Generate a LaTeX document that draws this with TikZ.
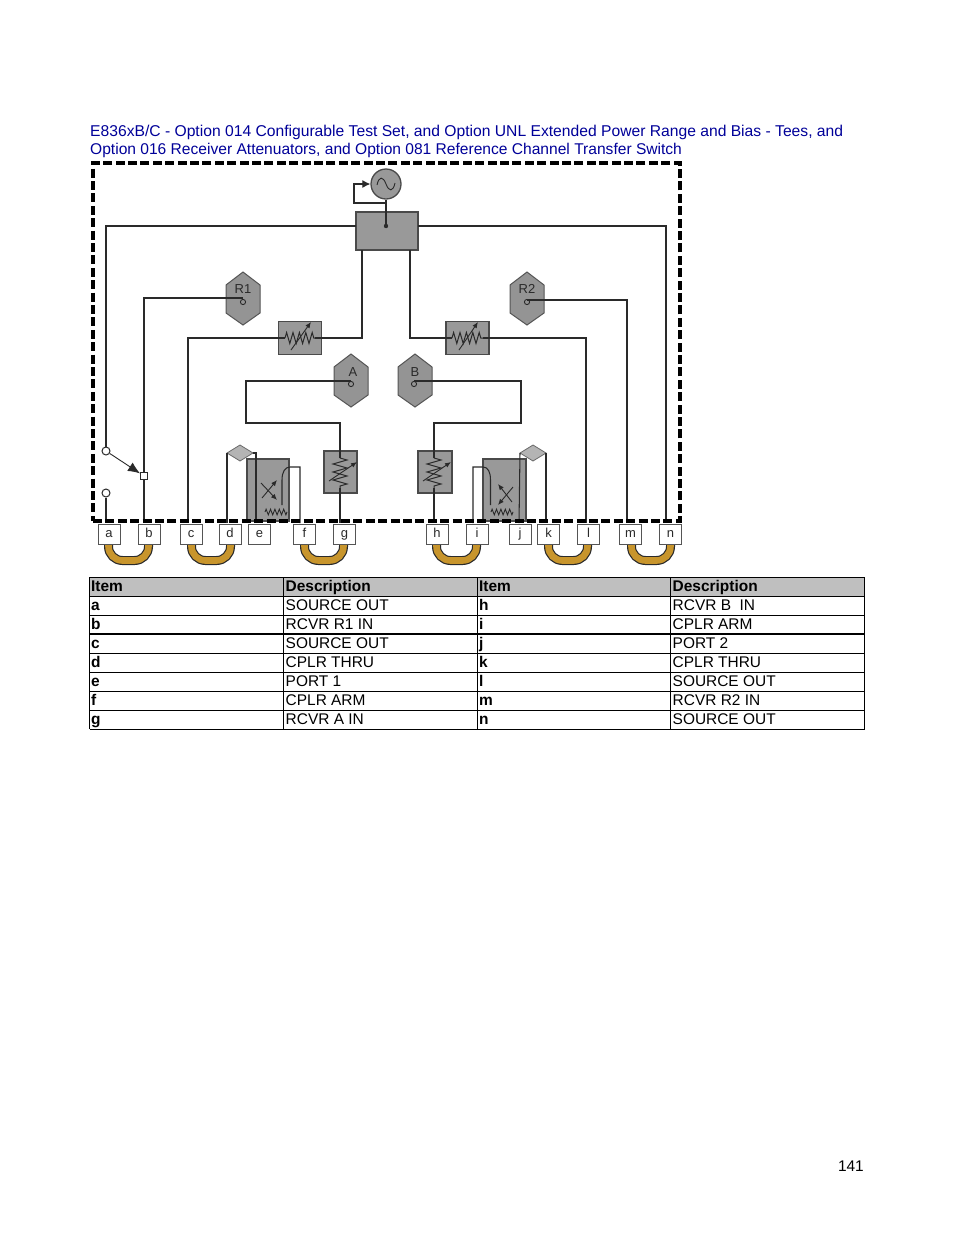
\documentclass[tikz,border=0pt]{standalone}
\usepackage{fontspec}
\setmainfont{Liberation Sans}
\usetikzlibrary{arrows.meta,decorations.pathmorphing,calc}
\definecolor{bluetitle}{HTML}{000099}
\definecolor{blockgray}{HTML}{999999}
\definecolor{lightgray}{HTML}{B4B4B4}
\definecolor{headgray}{HTML}{BFBFBF}
\definecolor{gold}{HTML}{C8952C}
\definecolor{ink}{HTML}{2A2A2A}
\tikzset{
  wire/.style={draw=ink,line width=1.05pt},
  thinwire/.style={draw=ink,line width=0.9pt},
  block/.style={draw=ink!85,fill=blockgray,line width=1.3pt,inner sep=0pt},
  frameline/.style={draw=black,line width=3.6pt,dash pattern=on 9pt off 3.4pt},
  portbox/.style={draw=ink!80,fill=white,line width=1pt,minimum width=22pt,minimum height=20pt,inner sep=0pt,text height=9pt,text depth=2.5pt,font=\fontsize{13}{13}\selectfont,text=ink},
  hexfill/.style={draw=ink!80,fill=blockgray!105,line width=1pt},
  hexlabel/.style={inner sep=0pt,font=\fontsize{13}{13}\selectfont,text=ink},
  tinycirc/.style={circle,draw=ink,fill=white,line width=1pt,minimum size=8pt,inner sep=0pt},
  tinysq/.style={draw=ink,fill=white,line width=1pt,minimum size=7pt,inner sep=0pt},
  probe/.style={draw=ink,line width=0.9pt},
  zigA/.style={draw=ink,line width=1pt,decorate,decoration={zigzag,segment length=6.4pt,amplitude=5.5pt}},
  zigV/.style={draw=ink,line width=1pt,decorate,decoration={zigzag,segment length=8pt,amplitude=7pt}},
  zigB/.style={draw=ink,line width=0.9pt,decorate,decoration={zigzag,segment length=4.4pt,amplitude=2.8pt}},
  tune/.style={draw=ink,line width=0.9pt,-{Latex[length=6pt,width=5pt]}},
  diam/.style={draw=ink!70,fill=lightgray,line width=0.8pt},
  jumpo/.style={draw=ink,line width=9pt,rounded corners=14pt},
  jumpi/.style={draw=gold,line width=6.6pt,rounded corners=14pt},
  titletxt/.style={anchor=base west,inner sep=0pt,text=bluetitle,font=\fontsize{15.66}{15.66}\selectfont},
  titletxtb/.style={anchor=base west,inner sep=0pt,text=bluetitle,font=\fontsize{15.58}{15.58}\selectfont},
  celltxt/.style={anchor=base west,inner sep=0pt,font=\fontsize{15.45}{15.45}\selectfont},
  cellbold/.style={celltxt,font=\fontsize{15.45}{15.45}\selectfont\bfseries},
  tableline/.style={draw=black,line width=0.9pt}
}
\newcommand{\hexshape}[3]{% name, x, ymid
  \draw[hexfill] (#2,#3-26.5) -- (#2+17,#3-13.5) -- (#2+17,#3+14.5) -- (#2,#3+26.5)
     -- (#2-17,#3+14.5) -- (#2-17,#3-13.5) -- cycle;
  \coordinate (#1) at (#2,#3);}
\begin{document}
\begin{tikzpicture}[x=1pt,y=-1pt]
\useasboundingbox (0,0) rectangle (954,1235);
\fill[white] (0,0) rectangle (954,1235);
% title
\node[titletxt] (title1) at (90,136) {E836xB/C - Option 014 Configurable Test Set, and Option UNL Extended Power Range and Bias - Tees, and};
\node[titletxtb] (title2) at (90,154.5) {Option 016 Receiver Attenuators, and Option 081 Reference Channel Transfer Switch};

% coupler blocks (behind wires)
\node[block,minimum width=42pt,minimum height=62pt] (cplL) at (268,490) {};
\node[block,minimum width=43pt,minimum height=62pt] (cplR) at (504.5,490) {};

% source and splitter
\node[block,minimum width=62pt,minimum height=38pt] (split) at (387,231) {};
\node[block,circle,minimum size=30pt] (osc) at (386,184) {};
\draw[thinwire] (377,185) .. controls (379,176) and (383,176) .. (386,184) .. controls (389,192) and (393,192) .. (395,183);
\coordinate (splitC) at (386,226);
\fill[ink] (splitC) circle (2.2);
\coordinate (fbA) at (386,203);
\coordinate (fbB) at (354,203);
\coordinate (fbC) at (354,184);
\draw[wire] (splitC) -- (osc.south);
\draw[wire,-{Latex[length=8pt,width=8pt]}] (fbA) -- (fbB) -- (fbC) -- (osc.west);

% ports
\foreach \n/\x in {a/109,b/149,c/191,d/230,e/259.5,f/304.5,g/344.5,h/437,i/477,j/520,k/548.5,l/588.5,m/630.5,n/670.5}{
  \coordinate (pos\n) at (\x,534);
}
% jumpers
\foreach \a/\b/\xa/\xb in {a/b/108.5/148.5,c/d/191.5/230.5,f/g/304.5/343.5,h/i/436.5/476.5,k/l/548.5/587.5,m/n/631.5/670.5}{
  \coordinate (j\a) at (\xa,540);
  \coordinate (j\b) at (\xb,540);
  \draw[jumpo] (j\a) -- (\xa,560.5) -- (\xb,560.5) -- (j\b);
  \draw[jumpi] (j\a) -- (\xa,560.5) -- (\xb,560.5) -- (j\b);
}

% attenuators
\node[block,minimum width=43pt,minimum height=33pt] (attL) at (300,338) {};
\node[block,minimum width=43pt,minimum height=33pt] (attR) at (467.5,338) {};
\node[block,minimum width=33pt,minimum height=42pt] (attA) at (340.5,472) {};
\node[block,minimum width=34pt,minimum height=42pt] (attB) at (435,472) {};

% hexagon receivers
\hexshape{hexRa}{243}{298.5}
\hexshape{hexRb}{527}{298.5}
\hexshape{hexA}{351}{380.5}
\hexshape{hexB}{415}{380.5}
\node[hexlabel] (lblRa) at (243,289) {R1};
\node[hexlabel] (lblRb) at (527,289) {R2};
\node[hexlabel] (lblA) at (353,372) {A};
\node[hexlabel] (lblB) at (415,372) {B};
\coordinate (tapRa) at (243,298);
\coordinate (tapRb) at (527,300);
\coordinate (tapA) at (351,381);
\coordinate (tapB) at (414,381);

% named wire points
\coordinate (wa) at (106,523); \coordinate (wb) at (144,523); \coordinate (wc) at (188,523);
\coordinate (wd) at (227,523); \coordinate (wdd) at (256,523); \coordinate (wf) at (300,523);
\coordinate (wg) at (340,523); \coordinate (wh) at (434,523); \coordinate (wi) at (473,523);
\coordinate (wj) at (519,523); \coordinate (wk) at (546,523); \coordinate (wl) at (586,523);
\coordinate (wm) at (627,523); \coordinate (wn) at (666,523);

% switch
\node[tinycirc] (swA) at (106,451) {};
\node[tinycirc] (swB) at (106,493) {};
\node[tinysq] (swC) at (144,476) {};

% diamonds
\draw[diam] (227,453) -- (240,445) -- (253,453) -- (240,461) -- cycle;
\coordinate (diaLw) at (227,453); \coordinate (diaLe) at (253,453);
\draw[diam] (520,453) -- (533,445) -- (546,453) -- (533,461) -- cycle;
\coordinate (diaRw) at (520,453); \coordinate (diaRe) at (546,453);

% long wires
\draw[wire] (356,226) -- (106,226) -- (swA.north);
\draw[wire] (418,226) -- (666,226) -- (wn);
\draw[wire] (362,250) -- (362,338) -- (315,338);
\draw[wire] (285,338) -- (188,338) -- (wc);
\draw[wire] (410,250) -- (410,338) -- (452,338);
\draw[wire] (483,338) -- (586,338) -- (wl);
\draw[wire] (tapRa) -- (144,298) -- (swC.north);
\draw[wire] (swC.south) -- (wb);
\draw[wire] (tapRb) -- (627,300) -- (wm);
\draw[wire] (tapA) -- (246,381) -- (246,423) -- (340,423) -- (340,458);
\draw[wire] (340,488) -- (wg);
\draw[wire] (tapB) -- (521,381) -- (521,423) -- (434,423) -- (434,458);
\draw[wire] (434,488) -- (wh);
\draw[wire] (swB.south) -- (wa);
\draw[thinwire,-{Latex[length=12pt,width=10pt]}] (swA) -- (swC);

% coupler wiring
\draw[wire] (wd) -- (diaLw);
\draw[wire] (diaLe) -- (256,453) -- (wdd);
\draw[wire] (wj) -- (diaRw);
\draw[wire] (diaRe) -- (wk);
\draw[wire] (wf) -- (300,467) -- (290,467) .. controls (285,467) and (282,472) .. (282,480) -- (282,505);
\draw[wire] (wi) -- (473,467) -- (483,467) .. controls (488,467) and (490.5,472) .. (490.5,480) -- (490.5,505);
\draw[tune] (262,498) -- (277,480);
\draw[tune] (261,483) -- (277,500);
\draw[tune] (512,502) -- (498,484);
\draw[tune] (513,487) -- (498,505);
\draw[zigB] (265,512) -- (287,512);
\draw[zigB] (491,512) -- (513,512);

% attenuator symbols
\draw[zigA] (285,338) -- (315,338);
\draw[tune] (291,350) -- (311,322);
\draw[zigA] (452,338) -- (483,338);
\draw[tune] (459,350) -- (478,322);
\draw[zigV] (340,458) -- (340,488);
\draw[tune] (329,481) -- (357,462);
\draw[zigV] (434,458) -- (434,488);
\draw[tune] (423,481) -- (451,462);

% hexagon probes
\draw[probe,fill=none] (243,302) circle (2.6);
\draw[probe,fill=none] (527,302) circle (2.6);
\draw[probe,fill=none] (351,384) circle (2.6);
\draw[probe,fill=none] (414,384) circle (2.6);

% frame
\node[inner sep=0pt,minimum width=587pt,minimum height=358pt,frameline] (frame) at (386.5,342) {};

% port boxes
\foreach \n in {a,b,c,d,e,f,g,h,i,j,k,l,m,n}{
  \node[portbox] (p\n) at (pos\n) {\n};
}

% table
\fill[headgray] (89.5,577) rectangle (864.5,596);
\foreach \y in {577,596,615,653,672,691,710,729}{
  \draw[tableline] (89.5,\y) -- (864.5,\y);
}
\draw[draw=black,line width=1.6pt] (89.5,634) -- (864.5,634);
\foreach \x in {89.5,283.5,477,670.5,864.5}{
  \draw[tableline] (\x,577) -- (\x,729);
}
\foreach \x/\t in {91/Item,285.5/Description,479/Item,672.5/Description}{
  \node[cellbold] (head\x) at (\x,591) {\t};
}
\foreach \y/\i/\d/\ii/\dd in {
  610/a/SOURCE OUT/h/RCVR B\ \ IN,
  629/b/RCVR R1 IN/i/CPLR ARM,
  648/c/SOURCE OUT/j/PORT 2,
  667/d/CPLR THRU/k/CPLR THRU,
  686/e/PORT 1/l/SOURCE OUT,
  705/f/CPLR ARM/m/RCVR R2 IN,
  724/g/RCVR A IN/n/SOURCE OUT}{
  \node[cellbold] (ia\y) at (91,\y) {\i};
  \node[celltxt] (da\y) at (285.5,\y) {\d};
  \node[cellbold] (ib\y) at (479,\y) {\ii};
  \node[celltxt] (db\y) at (672.5,\y) {\dd};
}
% page number
\node[celltxt,anchor=base east] (pageno) at (864,1171) {141};
\end{tikzpicture}
\end{document}
